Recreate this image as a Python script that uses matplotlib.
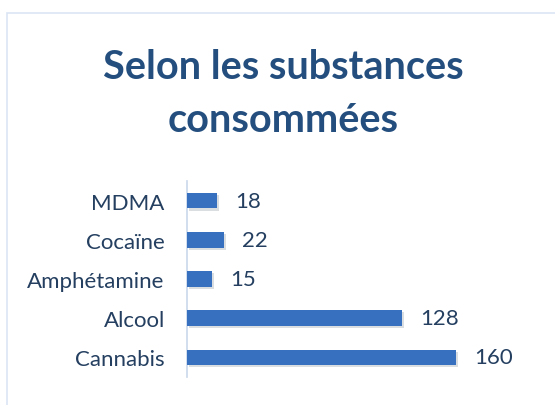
import matplotlib.pyplot as plt
from matplotlib.patches import Rectangle
import matplotlib.patheffects as pe

# data (bottom to top)
categories = ["Cannabis", "Alcool", "Amphétamine", "Cocaïne", "MDMA"]
values = [160, 128, 15, 22, 18]

W, H = 555, 406
fig = plt.figure(figsize=(W / 100, H / 100), dpi=100)
fig.patch.set_facecolor("white")

# light blue chart frame (only left/top visible)
fig.patches.append(Rectangle((7 / W, -0.1), 1.2, (H - 14) / H + 0.1,
                             transform=fig.transFigure, fill=False,
                             edgecolor="#dae5f3", linewidth=1.2))

ax = fig.add_axes([187 / W, 1 - 378 / H, (180 * 1.68) / W, 196 / H])

bars = ax.barh(range(len(categories)), values, height=0.4,
               color="#3870c0", zorder=3)
for b in bars:
    b.set_path_effects([pe.SimplePatchShadow(offset=(1.5, -1.5), alpha=0.15),
                        pe.Normal()])

for b, v in zip(bars, values):
    ax.annotate(str(v), (b.get_width(), b.get_y() + b.get_height() / 2),
                xytext=(13, 0), textcoords="offset points",
                va="center", ha="left", fontsize=16,
                color="#243f60", family="Lato")

ax.set_xlim(0, 180)
ax.set_ylim(-0.5, len(categories) - 0.5)
ax.set_yticks(range(len(categories)))
ax.set_yticklabels(categories, fontsize=16, color="#243f60", family="Lato")
ax.tick_params(axis="y", length=0, pad=16)
ax.set_xticks([])

for s in ["top", "right", "bottom"]:
    ax.spines[s].set_visible(False)
ax.spines["left"].set_color("#c9d7ea")
ax.spines["left"].set_linewidth(1.2)

fig.text(283 / W, 1 - 79 / H, "Selon les substances", ha="center",
         va="baseline", fontsize=28.5, fontweight="bold", color="#234e7e",
         family="Lato")
fig.text(283 / W, 1 - 132 / H, "consommées", ha="center", va="baseline",
         fontsize=28.5, fontweight="bold", color="#234e7e", family="Lato")

fig.savefig("out.png", dpi=100)
